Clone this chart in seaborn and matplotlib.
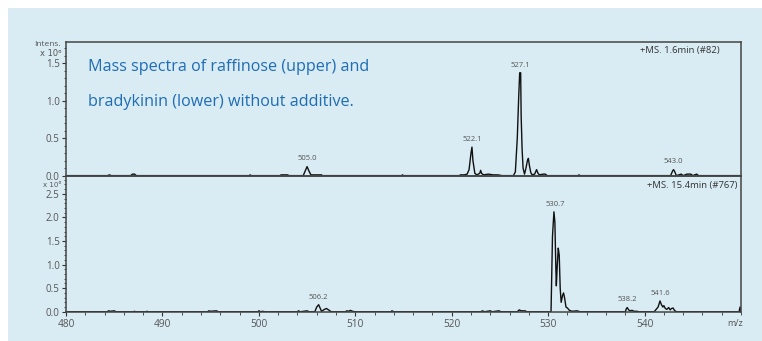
import numpy as np
import pandas as pd
import matplotlib
matplotlib.use("Agg")
import matplotlib.pyplot as plt
from matplotlib.patches import Rectangle
from matplotlib.ticker import MultipleLocator
import seaborn as sns

# ---- data (m/z, intensity x1e6) ----
raff_mz = [480.0, 484.3, 484.5, 484.7, 486.7, 486.9, 487.1, 487.3, 499.0, 499.1, 499.2,
           502.2, 502.3, 503.0, 503.1, 504.6, 504.8, 505.0, 505.2, 505.4, 506.5, 506.6,
           514.8, 514.9, 515.0, 520.8, 520.9, 521.3, 521.6, 521.8, 522.0, 522.1, 522.2,
           522.4, 522.6, 522.9, 523.0, 523.1, 523.3, 523.8, 524.3, 524.8, 525.2,
           526.4, 526.6, 526.8, 526.95, 527.05, 527.15, 527.2, 527.3, 527.4, 527.55,
           527.7, 527.85, 527.95, 528.05, 528.2, 528.35, 528.6, 528.8, 528.95, 529.1,
           529.5, 529.7, 529.9, 533.1, 533.2, 533.3, 542.7, 542.9, 543.0, 543.1, 543.3,
           543.8, 544.0, 544.4, 544.8, 545.0, 545.4, 545.6, 550.0]
raff_int = [0, 0, 0.01, 0, 0, 0.02, 0.02, 0, 0, 0.01, 0,
            0, 0.01, 0.01, 0, 0, 0.06, 0.12, 0.06, 0.01, 0.01, 0,
            0, 0.01, 0, 0, 0.01, 0.01, 0.02, 0.08, 0.30, 0.38, 0.20,
            0.03, 0.01, 0.03, 0.07, 0.03, 0.01, 0.02, 0.01, 0.01, 0,
            0, 0.05, 0.50, 1.06, 1.37, 1.37, 0.80, 0.35, 0.10, 0.02,
            0.10, 0.20, 0.23, 0.14, 0.04, 0.01, 0.02, 0.08, 0.03, 0.01,
            0.02, 0.02, 0, 0, 0.01, 0, 0, 0.06, 0.08, 0.06, 0,
            0.02, 0, 0.02, 0.02, 0, 0.02, 0, 0]

brady_mz = [480.0, 484.3, 484.4, 484.6, 485.0, 485.2, 487.0, 487.1, 487.2, 488.3, 488.4, 488.5,
            494.7, 494.8, 495.0, 495.6, 495.8, 499.9, 500.0, 500.2, 500.4, 500.6,
            504.0, 504.1, 504.3, 505.0, 505.2, 505.8, 506.0, 506.2, 506.35, 506.5,
            506.8, 507.0, 507.3, 507.5, 509.0, 509.1, 509.3, 509.5, 509.7, 510.0,
            513.7, 513.8, 514.0, 523.0, 523.2, 523.4, 524.0, 524.2, 524.9, 525.1,
            526.8, 527.0, 527.2, 527.6, 527.8, 530.3, 530.45, 530.6, 530.7, 530.8,
            530.85, 530.95, 531.05, 531.15, 531.25, 531.35, 531.5, 531.6, 531.7,
            531.85, 532.0, 532.2, 532.5, 533.0, 533.3, 538.0, 538.1, 538.2, 538.35,
            538.5, 538.7, 538.9, 539.2, 539.4, 541.0, 541.2, 541.4, 541.6, 541.75,
            541.9, 542.0, 542.15, 542.3, 542.5, 542.65, 542.8, 542.95, 543.1, 543.3,
            549.8, 549.9, 550.0]
brady_int = [0, 0, 0.02, 0.01, 0.02, 0, 0, 0.01, 0, 0, 0.01, 0,
             0, 0.02, 0.01, 0.02, 0, 0, 0.02, 0, 0.01, 0,
             0, 0.02, 0, 0.02, 0, 0, 0.10, 0.15, 0.08, 0.01,
             0.05, 0.07, 0.03, 0, 0, 0.02, 0.01, 0.03, 0.01, 0,
             0, 0.02, 0, 0, 0.02, 0, 0.02, 0, 0.02, 0,
             0, 0.04, 0.02, 0.02, 0, 0, 1.60, 2.12, 1.90, 0.90,
             0.55, 1.00, 1.35, 1.20, 0.50, 0.20, 0.35, 0.40, 0.30,
             0.10, 0.08, 0.03, 0.01, 0.02, 0, 0, 0.06, 0.09, 0.04,
             0.02, 0.03, 0.01, 0.01, 0, 0, 0.05, 0.10, 0.23, 0.15,
             0.10, 0.13, 0.07, 0.05, 0.09, 0.04, 0.07, 0.08, 0.03, 0,
             0, 0.10, 0]

raff_labels = ["505.0", "522.1", "527.1", "543.0"]
raff_label_mz = [505.0, 522.1, 527.1, 543.0]
raff_label_int = [0.12, 0.38, 1.37, 0.08]
brady_labels = ["506.2", "530.7", "538.2", "541.6"]
brady_label_mz = [506.2, 530.7, 538.2, 541.6]
brady_label_int = [0.15, 2.12, 0.09, 0.23]

x_ticks = [480, 490, 500, 510, 520, 530, 540]

sns.set_theme(style="white")
plt.rcParams['font.family'] = ['Open Sans', 'DejaVu Sans']

W, H = 762, 341
fig = plt.figure(figsize=(W / 100, H / 100), dpi=100)
fig.patch.set_facecolor("white")
bg = "#d9ebf3"
fig.patches.append(Rectangle((8 / W, 0), 1 - 8 / W, 1 - 8 / H, transform=fig.transFigure,
                             facecolor=bg, edgecolor="none", zorder=-10))

left, right = 66 / W, 741 / W
ax1 = fig.add_axes([left, 1 - 176 / H, right - left, (176 - 42) / H])
ax2 = fig.add_axes([left, 1 - 312 / H, right - left, (312 - 176) / H])

df1 = pd.DataFrame({"mz": raff_mz, "I": raff_int})
df2 = pd.DataFrame({"mz": brady_mz, "I": brady_int})
sns.lineplot(data=df1, x="mz", y="I", ax=ax1, color="#111111", lw=1.0,
             estimator=None, sort=False)
sns.lineplot(data=df2, x="mz", y="I", ax=ax2, color="#111111", lw=1.0,
             estimator=None, sort=False)

tick_col = "#555555"
for ax, ymax in [(ax1, 1.78), (ax2, 2.88)]:
    ax.set_facecolor("none")
    ax.set_xlim(480, 550)
    ax.set_ylim(-0.005, ymax)
    ax.set_xlabel("")
    ax.set_ylabel("")
    for s in ax.spines.values():
        s.set_color("#444444")
        s.set_linewidth(1.1)
    ax.yaxis.set_major_locator(MultipleLocator(0.5))
    ax.yaxis.set_minor_locator(MultipleLocator(0.1))
    ax.yaxis.set_major_formatter(matplotlib.ticker.FormatStrFormatter("%.1f"))
    ax.tick_params(axis="y", which="major", direction="out", length=3, width=0.8,
                   color="#333333", labelsize=7, labelcolor=tick_col, pad=1.5, left=True)
    ax.tick_params(axis="y", which="minor", direction="out", length=1.8, width=0.6,
                   color="#333333", left=True)

ax1.set_xticks([])
ax1.tick_params(axis="x", bottom=False, labelbottom=False)
ax2.set_xticks(x_ticks)
ax2.xaxis.set_minor_locator(MultipleLocator(2))
ax2.tick_params(axis="x", which="major", direction="out", length=3, width=0.8,
                color="#333333", labelsize=7.3, labelcolor=tick_col, pad=2, bottom=True)
ax2.tick_params(axis="x", which="minor", direction="out", length=1.8, width=0.6,
                color="#333333", bottom=True)

lab_col = "#555555"
for t, x, y in zip(raff_labels, raff_label_mz, raff_label_int):
    ax1.annotate(t, (x, y), xytext=(0, 3), textcoords="offset points", ha="center",
                 va="bottom", fontsize=5.5, color=lab_col)
for t, x, y in zip(brady_labels, brady_label_mz, brady_label_int):
    ax2.annotate(t, (x, y), xytext=(0, 3), textcoords="offset points", ha="center",
                 va="bottom", fontsize=5.5, color=lab_col)

ax1.text(0.968, 0.94, "+MS. 1.6min (#82)", transform=ax1.transAxes, ha="right",
         va="center", fontsize=6.8, color="#333333")
ax2.text(0.995, 0.93, "+MS. 15.4min (#767)", transform=ax2.transAxes, ha="right",
         va="center", fontsize=6.8, color="#333333")

fig.text(88 / W, 1 - 67 / H, "Mass spectra of raffinose (upper) and",
         ha="left", va="center", fontsize=11.6, color="#1f6db5")
fig.text(88 / W, 1 - 102 / H, "bradykinin (lower) without additive.",
         ha="left", va="center", fontsize=11.6, color="#1f6db5")

fig.text(61 / W, 1 - 44 / H, "Intens.", ha="right", va="center", fontsize=6,
         color=tick_col)
fig.text(61 / W, 1 - 53 / H, "x 10\u2076", ha="right", va="center", fontsize=6,
         color=tick_col, family=['DejaVu Sans'])
fig.text(61 / W, 1 - 185 / H, "x 10\u2076", ha="right", va="center", fontsize=5,
         color=tick_col, family=['DejaVu Sans'])
fig.text(735 / W, 1 - 323 / H, "m/z", ha="center", va="center", fontsize=6.5,
         color=tick_col)

fig.savefig("out.png", dpi=100, facecolor=fig.get_facecolor())
